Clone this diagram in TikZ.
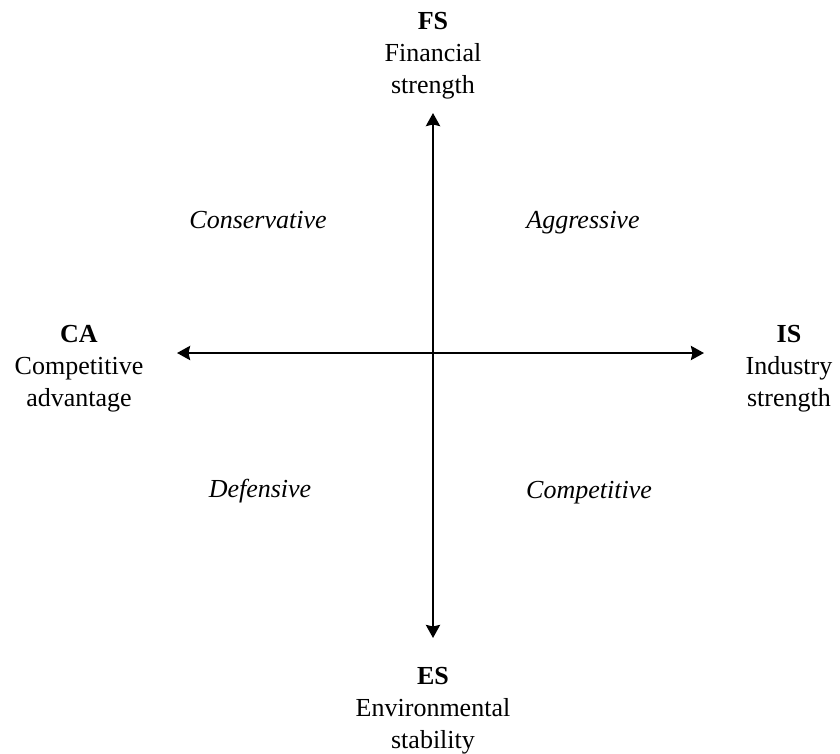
\documentclass[tikz,border=0pt]{standalone}
\usepackage{fontspec}
\setmainfont{Liberation Serif}
\usetikzlibrary{arrows.meta}
\begin{document}
\begin{tikzpicture}[x=1pt,y=-1pt,
  tip/.tip={Stealth[length=13pt,width=14pt,inset=1.5pt]},
  axis/.style={line width=2.6pt,tip-tip},
  axlabel/.style={anchor=north,inner sep=0pt,align=center,font=\fontsize{26}{32}\selectfont},
  quad/.style={anchor=base,inner sep=0pt,font=\fontsize{26}{31}\selectfont\itshape}]
\useasboundingbox (0,0) rectangle (840,753);
\coordinate (top) at (433,113);
\coordinate (bot) at (433,638);
\coordinate (left) at (177,353);
\coordinate (right) at (704,353);
\draw[axis] (top) -- (bot);
\draw[axis] (left) -- (right);
\node[axlabel] (fs) at (433,12) {\textbf{FS}\\Financial\\strength};
\node[axlabel] (ca) at (79,325) {\textbf{CA}\\Competitive\\advantage};
\node[axlabel] (is) at (789,325) {\textbf{IS}\\Industry\\strength};
\node[axlabel] (es) at (433,667) {\textbf{ES}\\Environmental\\stability};
\node[quad] (cons) at (258,228) {Conservative};
\node[quad] (aggr) at (583,228) {Aggressive};
\node[quad] (def) at (260,497) {Defensive};
\node[quad] (comp) at (589,498) {Competitive};
\end{tikzpicture}
\end{document}
